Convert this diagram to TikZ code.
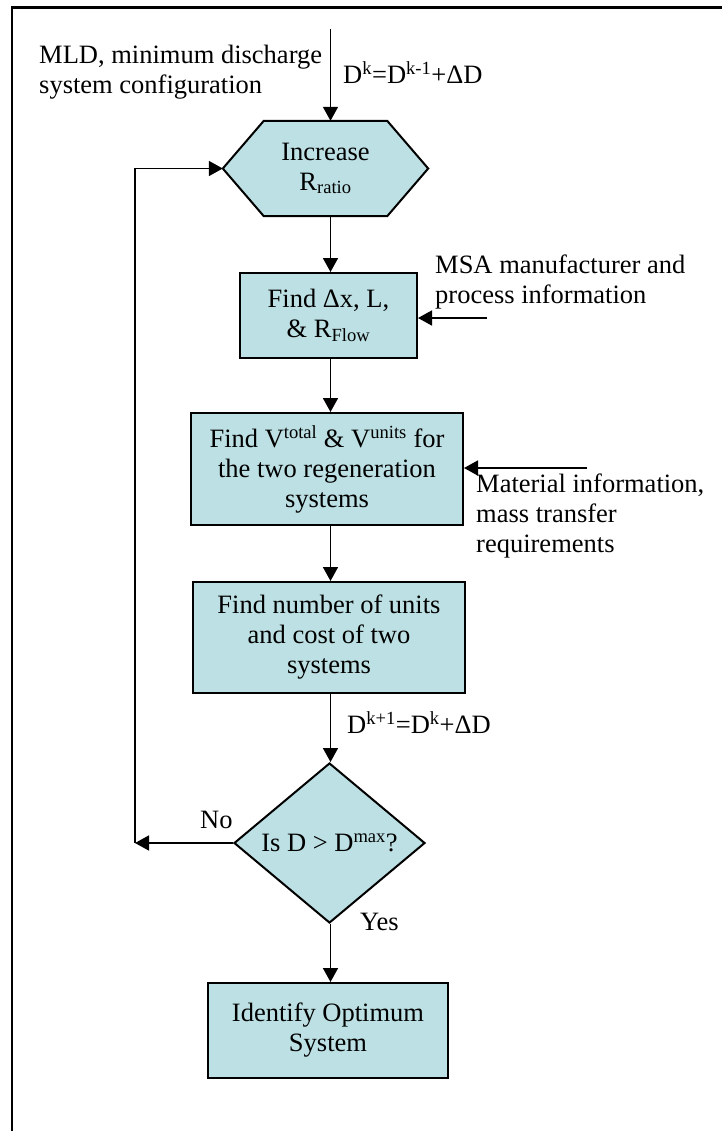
\documentclass[tikz,border=0pt]{standalone}
\usepackage{fontspec}
\setmainfont{Liberation Serif}
\usetikzlibrary{arrows.meta,shapes.geometric,calc,backgrounds}
\definecolor{boxfill}{RGB}{188,224,227}

\begin{document}
\begin{tikzpicture}[x=1bp,y=-1bp,
  every node/.style={font=\fontsize{26.5bp}{30bp}\selectfont, inner sep=0pt},
  flowbox/.style={rectangle, draw, line width=2bp, fill=boxfill, align=center},
  decision/.style={diamond, draw, line width=2bp, fill=boxfill, inner sep=0pt},
  conn/.style={line width=1.7bp, -{Triangle[length=14bp,width=15bp]}},
  lbl/.style={anchor=base west},
  note/.style={anchor=north west, align=left},
]
\useasboundingbox (0,0) rectangle (722,1131);

% outer frame: left and top edges
\draw[line width=2.4bp] (12,1140) -- (12,7.5) -- (730,7.5);

% process steps
\node[minimum width=205bp, minimum height=95bp, align=center] (hex) at (325.5,168.5) {Increase\\R\textsubscript{ratio}};
\begin{pgfonlayer}{background}
  \draw[line width=2bp, fill=boxfill]
    (hex.west) -- ($(hex.north west)+(41,0)$) -- ($(hex.north east)+(-41,0)$)
    -- (hex.east) -- ($(hex.south east)+(-41,0)$) -- ($(hex.south west)+(41,0)$) -- cycle;
\end{pgfonlayer}

\node[flowbox, minimum width=177bp, minimum height=85bp] (find1) at (328.5,315.5)
  {Find Δx, L,\\\& R\textsubscript{Flow}};
\node[flowbox, minimum width=272bp, minimum height=112bp] (find2) at (327,469)
  {Find V\textsuperscript{total} \& V\textsuperscript{units} for\\the two regeneration\\systems};
\node[flowbox, minimum width=272bp, minimum height=111bp] (cost) at (329,637.5)
  {Find number of units\\and cost of two\\systems};
\node[decision, minimum width=191bp, minimum height=160bp] (test) at (329.5,843)
  {Is D > D\textsuperscript{max}?};
\node[flowbox, minimum width=240bp, minimum height=95bp] (opt) at (328,1030.5)
  {Identify Optimum\\System};

% main column of connectors
\coordinate (start) at (330.5,29);
\draw[conn] (start) -- (start |- hex.north);
\draw[conn] (hex.south -| start) -- (find1.north -| start);
\draw[conn] (find1.south -| start) -- (find2.north -| start);
\draw[conn] (find2.south -| start) -- (cost.north -| start);
\draw[conn] (cost.south -| start) -- (test.north -| start);
\draw[conn] (test.south -| start) -- (opt.north -| start);

% side inputs
\coordinate (msa) at (487,318);
\draw[conn] (msa) -- (msa -| find1.east);
\coordinate (mat) at (587,468);
\draw[conn] (mat) -- (mat -| find2.east);

% loop back
\coordinate (loop) at (135,843);
\draw[conn] (test.west) -- (loop);
\draw[conn] (loop) -- (loop |- hex.west) -- (hex.west);

% labels
\node[note] (mldtext) at (39,45) {MLD, minimum discharge\\system configuration};
\node[lbl] (dk) at (343,83) {D\textsuperscript{k}=D\textsuperscript{k-1}+ΔD};
\node[note] (msatext) at (435,255) {MSA manufacturer and\\process information};
\node[note] (mattext) at (476,474) {Material information,\\mass transfer\\requirements};
\node[lbl] (dk1) at (347,733) {D\textsuperscript{k+1}=D\textsuperscript{k}+ΔD};
\node[lbl] (no) at (200,828) {No};
\node[lbl] (yes) at (360,930) {Yes};
\end{tikzpicture}
\end{document}
